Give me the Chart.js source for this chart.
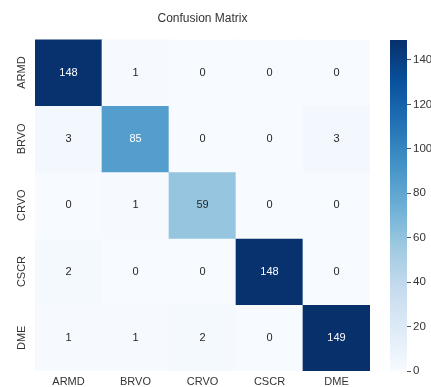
<!DOCTYPE html>
<html>
<head>
<meta charset="utf-8">
<script src="https://cdn.jsdelivr.net/npm/chart.js@4"></script>
<style>
  html, body { margin: 0; padding: 0; background: #ffffff; overflow: hidden; }
  #wrap { position: relative; width: 431px; height: 387px; overflow: hidden; }
  #main { position: absolute; left: 0; top: 0; }
  #cbar { position: absolute; left: 384px; top: 0; }
</style>
</head>
<body>
<div id="wrap">
  <canvas id="main" width="431" height="387"></canvas>
  <canvas id="cbar" width="80" height="387"></canvas>
</div>
<script>
const title = "Confusion Matrix";
const classes = ["ARMD", "BRVO", "CRVO", "CSCR", "DME"];
const rowARMD = [148, 1, 0, 0, 0];
const rowBRVO = [3, 85, 0, 0, 3];
const rowCRVO = [0, 1, 59, 0, 0];
const rowCSCR = [2, 0, 0, 148, 0];
const rowDME  = [1, 1, 2, 0, 149];
const rows = [rowARMD, rowBRVO, rowCRVO, rowCSCR, rowDME];
const colorbarTicks = [0, 20, 40, 60, 80, 100, 120, 140];

const vmin = 0;
const vmax = Math.max(...rows.flat());

// matplotlib "Blues"
const bluesStops = ["#f7fbff","#deebf7","#c6dbef","#9ecae1","#6baed6","#4292c6","#2171b5","#08519c","#08306b"];
function hexToRgb(h){ return [parseInt(h.slice(1,3),16),parseInt(h.slice(3,5),16),parseInt(h.slice(5,7),16)]; }
const bluesRgb = bluesStops.map(hexToRgb);
function bluesRgbAt(t){
  t = Math.max(0, Math.min(1, t));
  const p = t * (bluesRgb.length - 1);
  const i = Math.min(Math.floor(p), bluesRgb.length - 2);
  const f = p - i;
  const a = bluesRgb[i], b = bluesRgb[i+1];
  return [0,1,2].map(k => Math.round(a[k] + (b[k]-a[k]) * f));
}
function blues(t){ const c = bluesRgbAt(t); return `rgb(${c[0]},${c[1]},${c[2]})`; }
function lum(c){
  const ch = c.map(v => { v /= 255; return v <= 0.03928 ? v/12.92 : Math.pow((v+0.055)/1.055, 2.4); });
  return 0.2126*ch[0] + 0.7152*ch[1] + 0.0722*ch[2];
}

const FONT = "'Liberation Sans', Arial, Helvetica, sans-serif";
const TXT = "#333333";

const datasets = rows.map((row, i) => ({
  label: classes[i],
  data: row.map(() => [i, i + 1]),
  values: row,
  backgroundColor: row.map(v => blues((v - vmin) / (vmax - vmin))),
  borderWidth: 0,
  barPercentage: 1.0,
  categoryPercentage: 1.0,
  grouped: false
}));

const annotatePlugin = {
  id: 'annotate',
  afterDatasetsDraw(chart) {
    const ctx = chart.ctx;
    ctx.save();
    ctx.font = `11px ${FONT}`;
    ctx.textAlign = 'center';
    ctx.textBaseline = 'middle';
    chart.data.datasets.forEach((ds, di) => {
      const meta = chart.getDatasetMeta(di);
      meta.data.forEach((el, j) => {
        const v = ds.values[j];
        const c = bluesRgbAt((v - vmin) / (vmax - vmin));
        ctx.fillStyle = lum(c) < 0.408 ? '#ffffff' : '#262626';
        ctx.fillText(String(v), el.x, (el.y + el.base) / 2);
      });
    });
    // rotated y-axis category labels
    const ys = chart.scales.y;
    ctx.fillStyle = TXT;
    classes.forEach((name, i) => {
      const yc = ys.getPixelForValue(i + 0.5);
      ctx.save();
      ctx.translate(chart.chartArea.left - 13, yc);
      ctx.rotate(-Math.PI / 2);
      ctx.fillText(name, 0, 0);
      ctx.restore();
    });
    ctx.restore();
  }
};

new Chart(document.getElementById('main'), {
  type: 'bar',
  data: { labels: classes, datasets },
  options: {
    responsive: false,
    animation: false,
    devicePixelRatio: 1,
    layout: { padding: { left: 35, right: 61, top: 0, bottom: 0 } },
    plugins: {
      legend: { display: false },
      tooltip: { enabled: false },
      title: {
        display: true,
        text: title,
        fullSize: false,
        color: TXT,
        font: { family: FONT, size: 12, weight: 'normal' },
        padding: { top: 11, bottom: 14 }
      }
    },
    scales: {
      x: {
        type: 'category',
        grid: { display: false, drawTicks: false },
        border: { display: false },
        afterFit(scale) { scale.height = 16; },
        ticks: { color: TXT, font: { family: FONT, size: 11 }, padding: 4, maxRotation: 0 }
      },
      y: {
        type: 'linear',
        min: 0, max: 5,
        reverse: true,
        display: false
      }
    }
  },
  plugins: [annotatePlugin]
});

// colorbar
new Chart(document.getElementById('cbar'), {
  type: 'bar',
  data: {
    labels: ['cb'],
    datasets: [{
      data: [[vmin, vmax]],
      borderWidth: 0,
      barPercentage: 1.0,
      categoryPercentage: 1.0,
      backgroundColor(ctx) {
        const ca = ctx.chart.chartArea;
        if (!ca) return blues(0.5);
        const g = ctx.chart.ctx.createLinearGradient(0, ca.bottom, 0, ca.top);
        bluesStops.forEach((s, k) => g.addColorStop(k / (bluesStops.length - 1), s));
        return g;
      }
    }]
  },
  options: {
    responsive: false,
    animation: false,
    devicePixelRatio: 1,
    layout: { padding: { left: 6, right: 0, top: 40, bottom: 16 } },
    plugins: { legend: { display: false }, tooltip: { enabled: false }, title: { display: false } },
    scales: {
      x: { display: false },
      y: {
        type: 'linear',
        position: 'right',
        min: vmin, max: vmax,
        afterBuildTicks(scale) { scale.ticks = colorbarTicks.map(v => ({ value: v })); },
        afterFit(scale) { scale.width = 57; },
        grid: { display: true, drawOnChartArea: false, drawTicks: true, tickLength: 4, tickColor: '#555555', tickWidth: 1 },
        border: { display: false },
        ticks: { color: TXT, font: { family: FONT, size: 11.5 }, padding: 2 }
      }
    }
  }
});
</script>
</body>
</html>
